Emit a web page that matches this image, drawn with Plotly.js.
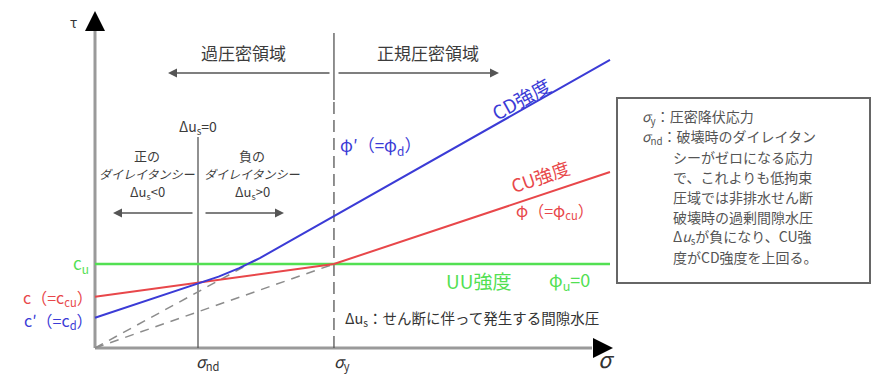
<!DOCTYPE html>
<html><head><meta charset="utf-8">
<script src="https://cdn.plot.ly/plotly-3.0.1.min.js"></script>
<style>html,body{margin:0;padding:0;background:#fff;}</style>
</head><body>
<div id="chart" style="width:872px;height:374px;"></div>
<script>
// ---- data (σ in units of σnd, τ in units of c_u) ----
const sigmaNd = 1.0;
const sigmaY = 2.32;
const sigmaMax = 5.0;
const uuSigma = [0, 5.0];
const uuTau = [1.0, 1.0];
const cdSigma = [0, 1.0, 1.2, 1.4, 1.6, 5.0];
const cdTau = [0.36, 0.77, 0.85, 0.95, 1.07, 3.43];
const cuSigma = [0, 1.0, 2.32, 5.0];
const cuTau = [0.61, 0.775, 1.0, 2.095];
const cdExtSigma = [0, 1.6];
const cdExtTau = [0, 1.07];
const cuExtSigma = [0, 2.32];
const cuExtTau = [0, 1.0];
const noteLines = [
  "<i>σ</i><sub>y</sub>：圧密降伏応力",
  "<i>σ</i><sub>nd</sub>：破壊時のダイレイタン",
  "シーがゼロになる応力",
  "で、これよりも低拘束",
  "圧域では非排水せん断",
  "破壊時の過剰間隙水圧",
  "Δ<i>u</i><sub>s</sub>が負になり、CU強",
  "度がCD強度を上回る。"
];

// pixel helpers for layout placement
const X = px => (px - 95) / 103;
const Y = py => (348 - py) / 84;

const JP = "Noto Sans CJK JP";
const gray = "#3c3c3c";
const blue = "#3b3bd6", red = "#e8474a", green = "#52e052";

const traces = [
  // axes
  {x:[0, 0], y:[0, Y(26)], mode:'lines', line:{color:'#9a9a9a', width:3}},
  {x:[0, X(592)], y:[0, 0], mode:'lines', line:{color:'#9a9a9a', width:3}},
  // guide lines
  {x:[sigmaNd, sigmaNd], y:[0, Y(137)], mode:'lines', line:{color:'#555', width:1.3}},
  {x:[sigmaY, sigmaY], y:[Y(100), Y(33)], mode:'lines', line:{color:'#555', width:1.3}},
  {x:[sigmaY, sigmaY], y:[0, Y(100)], mode:'lines', line:{color:'#555', width:1.3, dash:'12px,6px'}},
  // dashed extensions
  {x:cdExtSigma, y:cdExtTau, mode:'lines', line:{color:'#8c8c8c', width:1.5, dash:'9px,7px'}},
  {x:cuExtSigma, y:cuExtTau, mode:'lines', line:{color:'#8c8c8c', width:1.5, dash:'9px,7px'}},
  // strengths
  {x:uuSigma, y:uuTau, mode:'lines', line:{color:green, width:2.5}},
  {x:cuSigma, y:cuTau, mode:'lines', line:{color:red, width:2}},
  {x:cdSigma, y:cdTau, mode:'lines', line:{color:blue, width:2}}
];

function txt(text, px, py, opt) {
  opt = opt || {};
  return {
    text: text, x: X(px), y: Y(py), xref:'x', yref:'y', showarrow:false,
    xanchor: opt.xa || 'center', yanchor:'middle',
    font:{family: JP, size: opt.size || 15, color: opt.color || gray, style: opt.style || 'normal'},
    textangle: opt.angle || 0
  };
}
function arrow(hx, hy, tx, ty, opt) {
  opt = opt || {};
  return {x:X(hx), y:Y(hy), ax:X(tx), ay:Y(ty), xref:'x', yref:'y', axref:'x', ayref:'y',
    text:'', showarrow:true, arrowhead: opt.head || 2, arrowsize: opt.size || 1.2,
    arrowwidth: opt.width || 1.5, arrowcolor: opt.color || '#555'};
}

const ann = [
  // axis arrowheads
  arrow(95, 11, 95, 27, {color:'#000', width:2, size:2}),
  arrow(613, 348, 593, 348, {color:'#000', width:2, size:2}),
  // region arrows
  arrow(168, 73, 331, 73),
  arrow(499, 73, 337, 73),
  arrow(113, 213, 194, 213),
  arrow(284, 213, 204, 213),
  // axis labels
  txt("τ", 73, 22, {size:14, color:'#333'}),
  txt("<i>σ</i>", 606, 358, {size:22, color:'#333'}),
  txt("<i>σ</i><sub>nd</sub>", 208, 361, {size:16, color:'#333'}),
  txt("<i>σ</i><sub>y</sub>", 342, 361, {size:16, color:'#333'}),
  // region labels
  txt("過圧密領域", 243, 52, {size:17}),
  txt("正規圧密領域", 428, 52, {size:17}),
  txt("Δu<sub>s</sub>=0", 198, 127, {size:14}),
  txt("正の", 147, 155, {size:13}),
  txt("ダイレイタンシー", 147, 173, {size:12, style:'italic'}),
  txt("Δu<sub>s</sub>&lt;0", 147, 192, {size:13}),
  txt("負の", 252, 155, {size:13}),
  txt("ダイレイタンシー", 252, 173, {size:12, style:'italic'}),
  txt("Δu<sub>s</sub>&gt;0", 252, 192, {size:13}),
  // line labels
  txt("c<sub>u</sub>", 91, 263, {xa:'right', size:17, color:green}),
  txt("c（=c<sub>cu</sub>）", 95, 297, {xa:'right', size:16, color:red}),
  txt("c′（=c<sub>d</sub>）", 95, 320, {xa:'right', size:16, color:blue}),
  txt("φ′（=φ<sub>d</sub>）", 338, 145, {xa:'left', size:17, color:blue}),
  txt("CD強度", 520, 98, {size:19, color:blue, angle:-29}),
  txt("CU強度", 540, 176, {size:18, color:red, angle:-19}),
  txt("φ（=φ<sub>cu</sub>）", 555, 210, {size:16, color:red}),
  txt("UU強度", 478, 280, {size:19, color:green}),
  txt("φ<sub>u</sub>=0", 569, 280, {size:18, color:green}),
  txt("Δu<sub>s</sub>：せん断に伴って発生する間隙水圧", 343, 318, {xa:'left', size:14.5, color:'#333'})
];
noteLines.forEach((t, i) => {
  ann.push(txt(t, i < 2 ? 640 : 671, 117 + i * 20, {xa:'left', size:14, color:'#555'}));
});

const layout = {
  width: 872, height: 374,
  margin:{l:0, r:0, t:0, b:0},
  paper_bgcolor:'#fff', plot_bgcolor:'#fff',
  showlegend:false,
  xaxis:{range:[X(0), X(872)], visible:false, fixedrange:true},
  yaxis:{range:[Y(374), Y(0)], visible:false, fixedrange:true},
  annotations: ann,
  shapes:[
    {type:'rect', xref:'x', yref:'y', x0:X(617), x1:X(870), y0:Y(98), y1:Y(283),
     line:{color:'#666', width:2}, fillcolor:'rgba(0,0,0,0)', layer:'below'}
  ]
};

Plotly.newPlot('chart', traces, layout, {staticPlot:true, displayModeBar:false});
</script>
</body></html>
